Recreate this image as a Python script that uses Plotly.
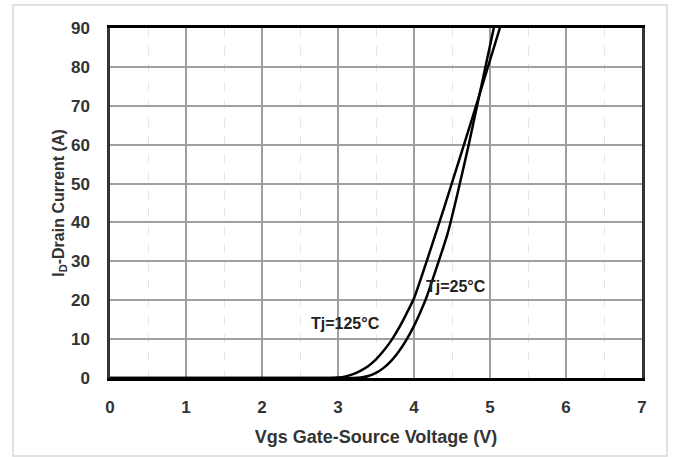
import plotly.graph_objects as go

# Transfer characteristics: Drain current vs Gate-Source voltage
vgs_25 = [0.0, 3.2, 3.3, 3.4, 3.5, 3.6, 3.7, 3.8, 3.9, 4.0, 4.08, 4.16, 4.44, 4.72, 5.05]
id_25 = [0.0, 0.0, 0.1, 0.5, 1.3, 2.6, 4.4, 6.8, 9.8, 13.4, 16.8, 20.5, 37.0, 60.0, 90.0]

vgs_125 = [0.0, 2.9, 3.0, 3.1, 3.2, 3.3, 3.4, 3.5, 3.6, 3.7, 3.8, 3.9, 4.0, 4.4, 4.77, 5.13]
id_125 = [0.0, 0.0, 0.1, 0.4, 1.0, 1.9, 3.1, 4.8, 7.0, 9.6, 12.8, 16.5, 20.5, 44.0, 67.0, 90.0]

x_ticks = [0, 1, 2, 3, 4, 5, 6, 7]
y_ticks = [0, 10, 20, 30, 40, 50, 60, 70, 80, 90]

FONT = "Liberation Sans, Arial, sans-serif"

fig = go.Figure()
fig.add_trace(go.Scatter(x=vgs_25, y=id_25, mode="lines", name="Tj=25°C",
                         line=dict(color="black", width=2.5, shape="spline", smoothing=0.4)))
fig.add_trace(go.Scatter(x=vgs_125, y=id_125, mode="lines", name="Tj=125°C",
                         line=dict(color="black", width=2.5, shape="spline", smoothing=0.4)))

fig.update_layout(
    width=678, height=457,
    margin=dict(l=110, r=36, t=28, b=79),
    paper_bgcolor="white", plot_bgcolor="white",
    showlegend=False,
    font=dict(family=FONT, color="#222"),
    xaxis=dict(
        range=[0, 7], tickvals=x_ticks, ticktext=[str(v) for v in x_ticks],
        showgrid=True, gridcolor="#a0a0a0", gridwidth=1.5,
        minor=dict(dtick=0.5, showgrid=True, gridcolor="#e6e6e6", griddash="dash", gridwidth=1),
        showline=True, linecolor="black", linewidth=3, mirror=True,
        ticks="", ticklen=0, zeroline=False, ticklabelstandoff=12,
        tickfont=dict(family=FONT, size=17, color="#333", weight="bold"),
        title=dict(text="<b>Vgs Gate-Source Voltage (V)</b>",
                   font=dict(family=FONT, size=18, color="#333"), standoff=14),
    ),
    yaxis=dict(
        range=[0, 90], tickvals=y_ticks, ticktext=[str(v) for v in y_ticks],
        showgrid=True, gridcolor="#a0a0a0", gridwidth=1.5,
        showline=True, linecolor="#333", linewidth=2.5, mirror=True,
        ticks="", ticklen=0, zeroline=False, ticklabelstandoff=14,
        tickfont=dict(family=FONT, size=17, color="#333", weight="bold"),
        title=dict(text="<b>I<sub>D</sub>-Drain Current (A)</b>",
                   font=dict(family=FONT, size=16, color="#333"), standoff=3),
    ),
    annotations=[
        dict(x=3.1, y=14, xref="x", yref="y", text="<b>Tj=125°C</b>", showarrow=False,
             font=dict(family=FONT, size=16, color="#222")),
        dict(x=4.55, y=23.5, xref="x", yref="y", text="<b>Tj=25°C</b>", showarrow=False,
             font=dict(family=FONT, size=16, color="#222")),
    ],
    shapes=[
        dict(type="rect", xref="paper", yref="paper",
             x0=-0.1823, x1=1.047, y0=-0.2229, y1=1.0657,
             line=dict(color="#d9d9d9", width=1.5), layer="below"),
    ],
)

fig.write_html("out.html")
